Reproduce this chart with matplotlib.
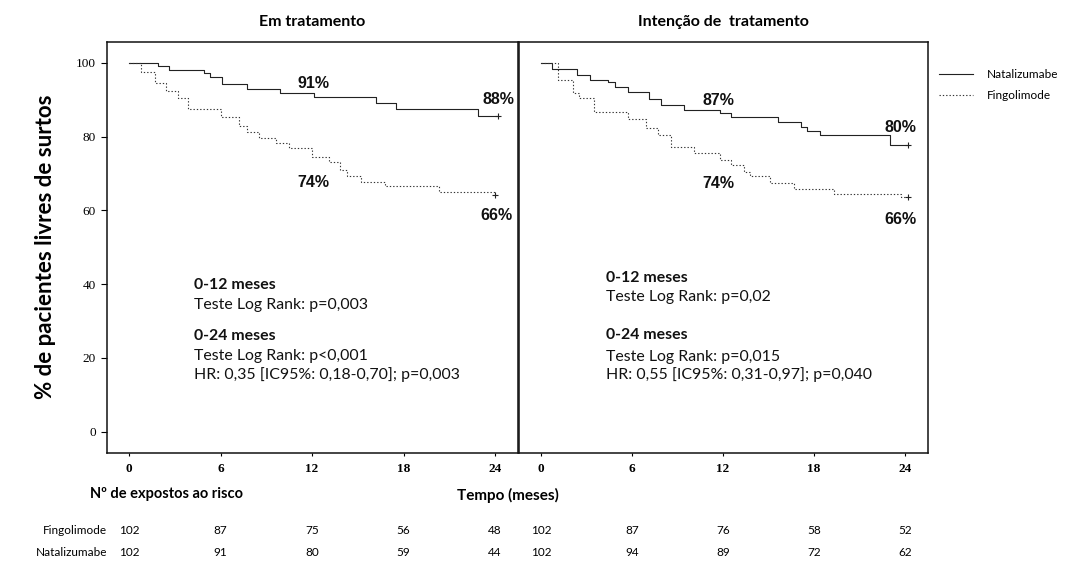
import matplotlib
matplotlib.use("Agg")
import matplotlib.pyplot as plt
from matplotlib.transforms import blended_transform_factory

# ---------------- data ----------------
months = [0, 6, 12, 18, 24]
yticks = [0, 20, 40, 60, 80, 100]

# Em tratamento (on treatment)
t_nat_on = [0, 0.4, 1.9, 2.6, 4.9, 5.3, 6.1, 7.7, 9.9, 12.1, 16.2, 17.5, 22.9, 24.2]
s_nat_on = [100, 99.8, 99.2, 98.1, 97.1, 96.2, 94.2, 92.8, 91.9, 90.6, 89.0, 87.4, 85.6, 85.6]
t_fin_on = [0, 0.8, 1.7, 2.45, 3.2, 3.85, 6.0, 7.2, 7.7, 8.5, 9.6, 10.5, 12.0, 13.1,
            13.8, 14.3, 15.2, 16.8, 20.3, 24.0]
s_fin_on = [100, 97.6, 94.4, 92.4, 90.4, 87.4, 85.4, 82.8, 81.3, 79.5, 78.2, 76.8, 74.4, 73.2,
            70.9, 69.3, 67.8, 66.6, 65.0, 64.1]

# Intenção de tratamento (intention to treat)
t_nat_itt = [0, 0.7, 2.4, 3.2, 4.4, 4.9, 5.7, 7.1, 7.9, 9.4, 11.8, 12.5, 15.6, 17.1, 17.5,
             18.4, 23.0, 24.2]
s_nat_itt = [100, 98.2, 96.7, 95.3, 94.9, 93.5, 92.1, 90.1, 88.5, 87.2, 86.4, 85.2, 84.0, 82.5,
             81.6, 80.4, 77.7, 77.7]
t_fin_itt = [0, 1.1, 2.1, 2.5, 3.5, 5.7, 6.9, 7.7, 8.55, 10.1, 11.8, 12.5, 13.4, 13.8, 15.1,
             16.7, 19.3, 23.7, 24.2]
s_fin_itt = [100, 95.3, 91.7, 90.4, 86.7, 84.7, 82.2, 80.4, 77.2, 75.4, 73.6, 72.3, 70.5, 69.3,
             67.3, 65.7, 64.4, 63.7, 63.7]

# percentage labels: (t, y, text)
pct_on = [(12.1, 94.4, "91%"), (24.2, 90.1, "88%"), (12.1, 67.5, "74%"), (24.1, 58.5, "66%")]
pct_itt = [(11.7, 89.7, "87%"), (23.7, 82.5, "80%"), (11.7, 67.3, "74%"), (23.7, 57.6, "66%")]

stats_on = ["0-12 meses", "Teste Log Rank: p=0,003", "0-24 meses", "Teste Log Rank: p<0,001",
            "HR: 0,35 [IC95%: 0,18-0,70]; p=0,003"]
stats_on_y = [39.8, 34.4, 25.9, 20.5, 15.6]
stats_itt = ["0-12 meses", "Teste Log Rank: p=0,02", "0-24 meses", "Teste Log Rank: p=0,015",
             "HR: 0,55 [IC95%: 0,31-0,97]; p=0,040"]
stats_itt_y = [41.6, 36.6, 26.2, 20.3, 15.4]
stats_bold = [True, False, True, False, False]

risk_fin_on = [102, 87, 75, 56, 48]
risk_nat_on = [102, 91, 80, 59, 44]
risk_fin_itt = [102, 87, 76, 58, 52]
risk_nat_itt = [102, 94, 89, 72, 62]

# ---------------- figure ----------------
CAL = ["Lato", "DejaVu Sans"]
fig = plt.figure(figsize=(10.68, 5.65), dpi=100)
ax1 = fig.add_axes([107 / 1068, 1 - 452.7 / 565, 411 / 1068, 411 / 565])
ax2 = fig.add_axes([519 / 1068, 1 - 452.7 / 565, 409 / 1068, 411 / 565])

nat_style = dict(color="#222222", lw=0.8, linestyle="-")
fin_style = dict(color="#333333", lw=0.8, linestyle=(0, (1.2, 1.8)))


def draw(ax, tn, sn, tf, sf, pcts, stats, stats_y, title):
    ln_n, = ax.step(tn, sn, where="post", label="Natalizumabe", **nat_style)
    ln_f, = ax.step(tf, sf, where="post", label="Fingolimode", **fin_style)
    ax.plot([tn[-1]], [sn[-1]], marker="+", color="#222222", ms=5, mew=0.8)
    ax.plot([tf[-1]], [sf[-1]], marker="+", color="#222222", ms=5, mew=0.8)
    for x, y, s in pcts:
        ax.text(x, y, s, ha="center", va="center", fontsize=11.5, fontweight="bold",
                family="Liberation Sans", color="#111111")
    for s, y, b in zip(stats, stats_y, stats_bold):
        ax.text(4.25, y, s, ha="left", va="center", fontsize=11.4,
                fontweight="bold" if b else "normal", family=CAL, color="#111111")
    ax.set_xlim(-1.45, 25.5)
    ax.set_ylim(-5.7, 105.7)
    ax.set_xticks(months)
    ax.set_xticklabels([str(m) for m in months], family="Liberation Serif", fontsize=9.5,
                       fontweight="bold")
    ax.tick_params(axis="x", direction="out", length=2.5, width=0.8, pad=5)
    for sp in ax.spines.values():
        sp.set_linewidth(1.1)
        sp.set_color("#111111")
    ax.set_title(title, fontsize=11.5, fontweight="bold", family=CAL, pad=11)
    return ln_n, ln_f


draw(ax1, t_nat_on, s_nat_on, t_fin_on, s_fin_on, pct_on, stats_on, stats_on_y, "Em tratamento")
ln_n, ln_f = draw(ax2, t_nat_itt, s_nat_itt, t_fin_itt, s_fin_itt, pct_itt, stats_itt, stats_itt_y,
                  "Intenção de  tratamento")

ax1.set_yticks(yticks)
ax1.set_yticklabels([str(v) for v in yticks], family="Liberation Serif", fontsize=9.5)
ax1.tick_params(axis="y", direction="out", length=4, width=0.8, pad=4)
ax2.set_yticks([])
ax1.set_ylabel("% de pacientes livres de surtos", family=CAL, fontsize=16, fontweight="bold",
               labelpad=14)

leg = ax2.legend(handles=[ln_n, ln_f], loc="upper left", bbox_to_anchor=(1.015, 0.945),
                 frameon=False, prop={"family": CAL, "size": 8.5}, handlelength=2.9,
                 handletextpad=1.2, labelspacing=0.85, borderaxespad=0.0)

# bottom labels
fig.text(167 / 1068, 1 - 494 / 565, "Nº de expostos ao risco", ha="center", va="center",
         family=CAL, fontsize=10.5, fontweight="bold")
fig.text(508 / 1068, 1 - 495 / 565, "Tempo (meses)", ha="center", va="center",
         family=CAL, fontsize=11, fontweight="bold")

y_fin = 1 - 531 / 565
y_nat = 1 - 552 / 565
fig.text(107 / 1068, y_fin, "Fingolimode", ha="right", va="center", family=CAL, fontsize=8.5)
fig.text(107 / 1068, y_nat, "Natalizumabe", ha="right", va="center", family=CAL, fontsize=8.5)

for ax, rf, rn in [(ax1, risk_fin_on, risk_nat_on), (ax2, risk_fin_itt, risk_nat_itt)]:
    tr = blended_transform_factory(ax.transData, fig.transFigure)
    for m, a, b in zip(months, rf, rn):
        ax.text(m, y_fin, str(a), transform=tr, ha="center", va="center", family=CAL,
                fontsize=8.5, clip_on=False)
        ax.text(m, y_nat, str(b), transform=tr, ha="center", va="center", family=CAL,
                fontsize=8.5, clip_on=False)

fig.savefig("out.png", dpi=100)
